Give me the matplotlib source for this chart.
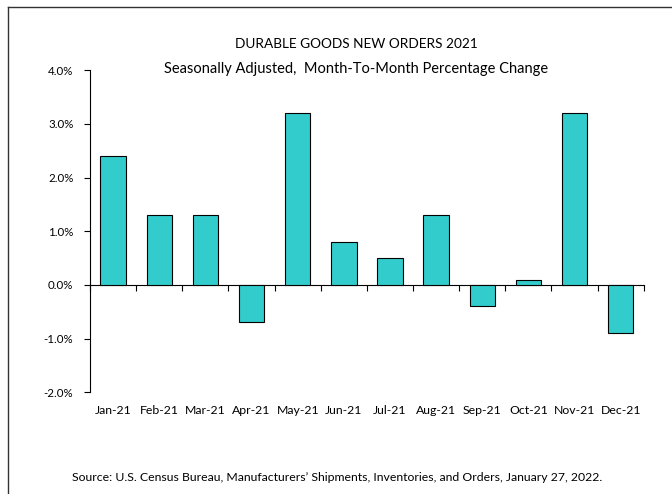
import matplotlib
matplotlib.use('Agg')
import numpy as np
import matplotlib.pyplot as plt
from matplotlib.lines import Line2D

months = ['Jan-21', 'Feb-21', 'Mar-21', 'Apr-21', 'May-21', 'Jun-21',
          'Jul-21', 'Aug-21', 'Sep-21', 'Oct-21', 'Nov-21', 'Dec-21']
change = [2.4, 1.3, 1.3, -0.7, 3.2, 0.8, 0.5, 1.3, -0.4, 0.1, 3.2, -0.9]
yticks = [-2.0, -1.0, 0.0, 1.0, 2.0, 3.0, 4.0]

plt.rcParams['font.family'] = ['Lato', 'DejaVu Sans']

fig = plt.figure(figsize=(6.72, 4.94), dpi=100)
ax = fig.add_axes([0.134, 0.206, 0.824, 0.652])

x = np.arange(len(months))
ax.bar(x, change, width=0.55, color='#33CCCC', edgecolor='black', linewidth=0.8, zorder=3)

ax.set_xlim(-0.5, len(months) - 0.5)
ax.set_ylim(-2.0, 4.0)
ax.set_yticks(yticks)
ax.set_yticklabels([f'{v:.1f}%' for v in yticks], fontsize=8.3)
ax.tick_params(axis='y', direction='out', length=4, width=0.8, pad=8)

ax.set_xticks(x)
ax.set_xticklabels(months, fontsize=8.8)
ax.tick_params(axis='x', length=0, pad=9)

for s in ['top', 'right', 'bottom']:
    ax.spines[s].set_visible(False)
ax.spines['left'].set_linewidth(0.8)

# zero line with category boundary ticks
zero = ax.secondary_xaxis((0 - yticks[0]) / (yticks[-1] - yticks[0]))
zero.set_xticks(np.arange(len(months) + 1) - 0.5)
zero.set_xticklabels([])
zero.tick_params(direction='out', length=4, width=0.8)
zero.spines['bottom'].set_linewidth(0.8)

fig.text(0.531, 0.91, 'DURABLE GOODS NEW ORDERS 2021', ha='center', va='center', fontsize=9.8)
fig.text(0.530, 0.861, 'Seasonally Adjusted,  Month-To-Month Percentage Change',
         ha='center', va='center', fontsize=10.5)
fig.text(0.501, 0.034, 'Source: U.S. Census Bureau, Manufacturers\u2019 Shipments, Inventories, and Orders, January 27, 2022.',
         ha='center', va='center', fontsize=8.8)

# outer frame (left and top edges visible)
fig.add_artist(Line2D([0.012, 0.012], [0, 0.986], color='#333333', lw=1.0, transform=fig.transFigure))
fig.add_artist(Line2D([0.012, 1.0], [0.986, 0.986], color='#333333', lw=1.0, transform=fig.transFigure))

fig.savefig('out.png', dpi=100)
